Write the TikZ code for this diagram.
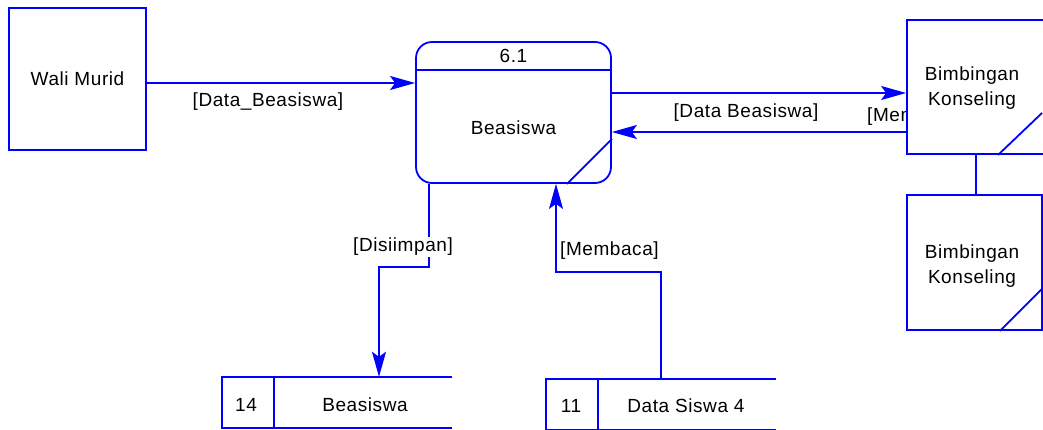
\documentclass[tikz,border=0pt]{standalone}
\usepackage{fontspec}
\setmainfont[LetterSpace=3]{Liberation Sans}
\usetikzlibrary{arrows.meta,calc}
\definecolor{vblue}{RGB}{0,0,255}
\tikzset{
  ln/.style={draw=vblue, line width=1.8pt},
  arr/.style={ln, -{Stealth[length=25pt,width=14pt,inset=5pt]}},
  ent/.style={draw=vblue, line width=1.8pt, fill=white, rectangle, inner sep=0pt, align=center},
  proc/.style={ent, rounded corners=16pt},
  txt/.style={inner sep=0pt, text=black, align=center, font=\fontsize{19}{24.5}\selectfont},
  lbl/.style={txt, fill=white, inner sep=1pt},
  store/.style={rectangle, inner sep=0pt}
}
\begin{document}
\begin{tikzpicture}[x=1pt,y=-1pt]
\useasboundingbox (0,0) rectangle (1043,430);
\clip (0,0) rectangle (1043,430);
\fill[white] (0,0) rectangle (1043,430);

% entities
\node[ent, minimum width=137pt, minimum height=142pt, txt] (wali) at (77.5,79) {Wali Murid};
\node[proc, minimum width=195pt, minimum height=141pt] (proc) at (513.5,112.5) {};
\draw[ln] ($(proc.north west)+(0,29)$) -- ($(proc.north east)+(0,29)$);
\node[txt] (pnum) at ($(proc.north)+(0,15)$) {6.1};
\node[txt] (pname) at (513.5,128) {Beasiswa};
\draw[ln] ($(proc.south east)+(-45,0)$) -- ($(proc.south east)+(0,-45)$);

% label partly hidden behind the entity
\node[txt, anchor=west] (hid) at (867,117) {[Membaca]};

\node[ent, minimum width=138pt, minimum height=134pt] (bk1) at (976,87) {};
\node[txt] (bk1t) at (972,88) {Bimbingan\\Konseling};
\draw[ln] ($(bk1.south west)+(92,0)$) -- ($(bk1.south west)+(136,-42)$);
\node[ent, minimum width=135pt, minimum height=135pt] (bk2) at (974.5,262.5) {};
\node[txt] (bk2t) at (972,266) {Bimbingan\\Konseling};
\draw[ln] ($(bk2.south east)+(-43,0)$) -- ($(bk2.south east)+(0,-43)$);
\draw[ln] (bk1.south) -- (bk1.south |- bk2.north);

% data stores
\node[store, minimum width=230pt, minimum height=51pt] (st1) at (337,402.5) {};
\draw[ln] (st1.north east) -- (st1.north west) -- (st1.south west) -- (st1.south east);
\draw[ln] ($(st1.north west)+(52,0)$) -- ($(st1.south west)+(52,0)$);
\node[txt] (st1n) at (246,405) {14};
\node[txt] (st1t) at (365,405) {Beasiswa};

\node[store, minimum width=230pt, minimum height=51pt] (st2) at (661,404.5) {};
\draw[ln] (st2.north east) -- (st2.north west) -- (st2.south west) -- (st2.south east);
\draw[ln] ($(st2.north west)+(52,0)$) -- ($(st2.south west)+(52,0)$);
\node[txt] (st2n) at (571,406) {11};
\node[txt] (st2t) at (686,406) {Data Siswa 4};

% connectors
\coordinate (w1) at ($(wali.east)+(0,4)$);
\draw[arr] (w1) -- (w1 -| proc.west);
\node[txt] (l1) at (268,102) {[Data\_Beasiswa]};

\coordinate (p1) at ($(proc.east)+(0,-19.5)$);
\draw[arr] (p1) -- (p1 -| bk1.west);
\coordinate (b1) at ($(bk1.west)+(0,45)$);
\draw[arr] (b1) -- (b1 -| proc.east);
\node[txt] (l2) at (746,113) {[Data Beasiswa]};

\coordinate (p2) at ($(proc.south west)+(14,0)$);
\coordinate (s1) at ($(st1.north)+(42,0)$);
\draw[arr] (p2) |- ($(p2)!0.43!(s1)$) -| (s1);
\node[lbl] (l3) at (403,247) {[Disiimpan]};

\coordinate (p3) at ($(proc.south)+(42.5,0)$);
\draw[arr] (st2.north) |- ($(st2.north)!0.55!(p3)$) -| (p3);
\node[txt, anchor=west] (l4) at (560,251) {[Membaca]};
\end{tikzpicture}
\end{document}
